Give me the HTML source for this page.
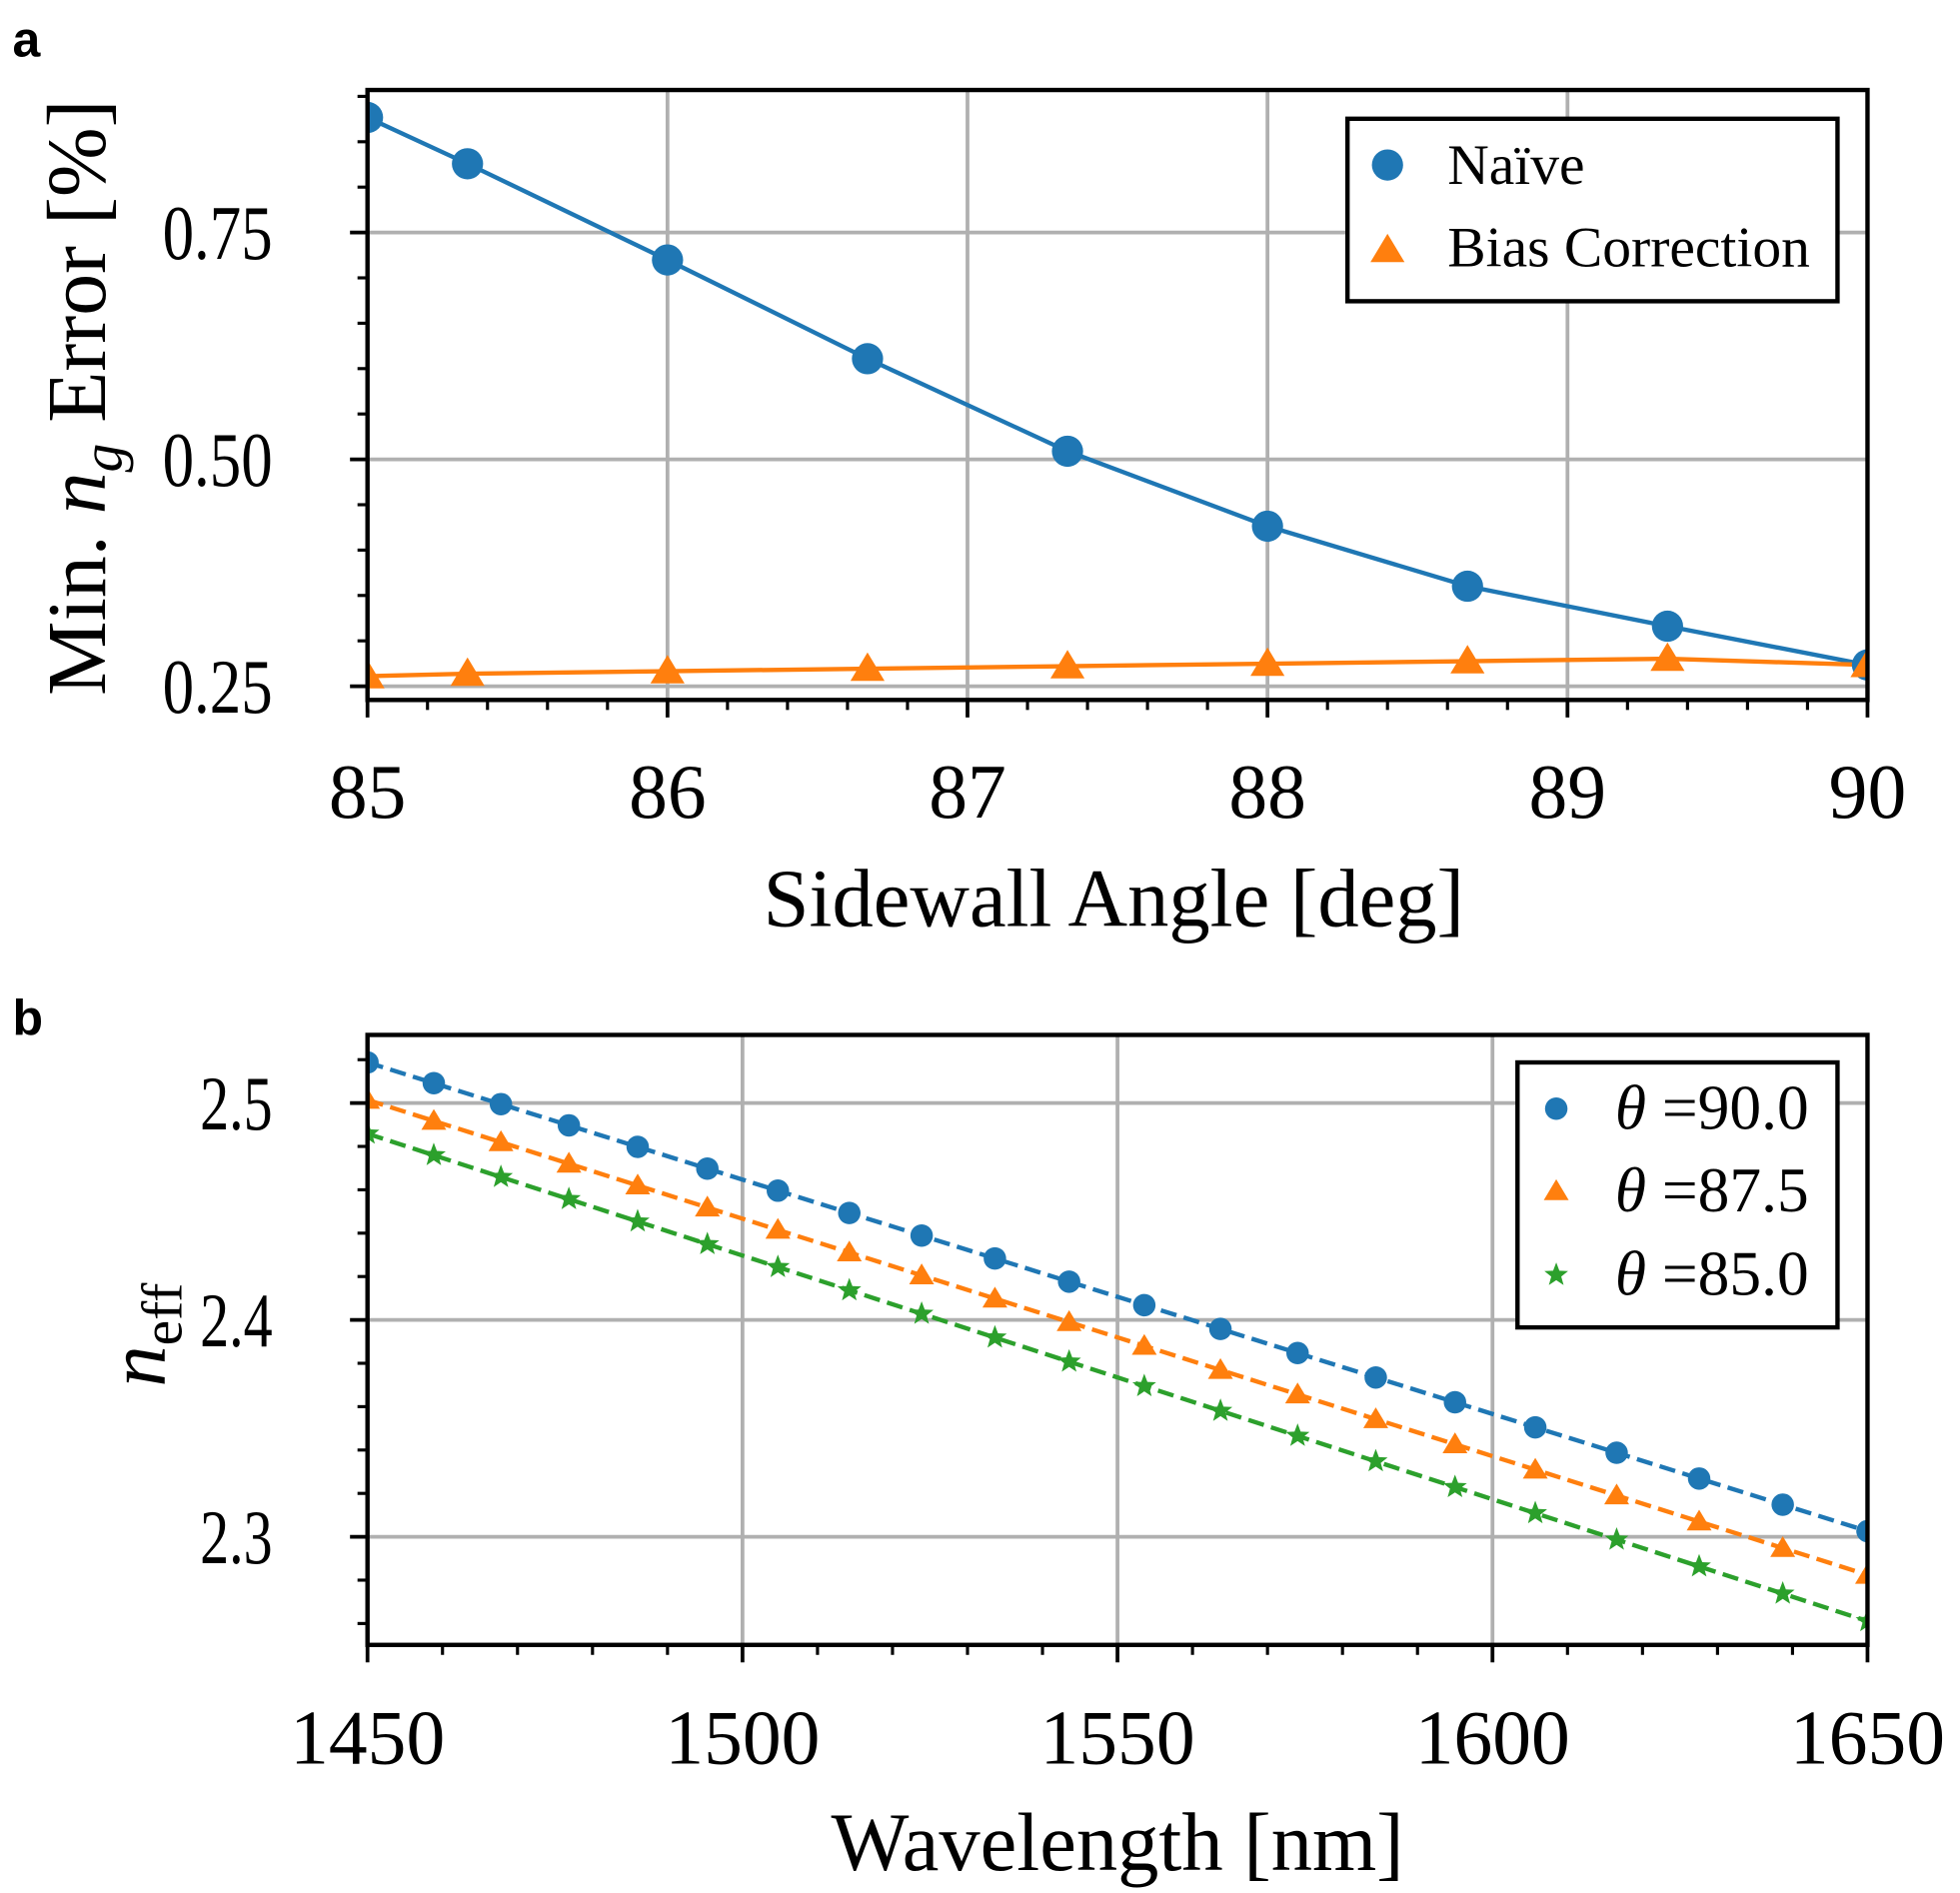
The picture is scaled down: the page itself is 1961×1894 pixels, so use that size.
<!DOCTYPE html>
<html><head><meta charset="utf-8"><style>
html,body{margin:0;padding:0;background:#fff;}
svg{display:block;}
text{font-family:"Liberation Serif",serif;fill:#000;}
</style></head><body>
<svg id="s" width="1961" height="1894" viewBox="0 0 1568 1514.5" preserveAspectRatio="none" xmlns="http://www.w3.org/2000/svg">
<rect width="1568" height="1515" fill="#fff"/>
<text x="10" y="45" style="font-family:'Liberation Sans',sans-serif;font-weight:bold;font-size:40px">a</text>
<text x="10" y="828" style="font-family:'Liberation Sans',sans-serif;font-weight:bold;font-size:40px">b</text>
<g id="ga"></g>
<g id="gb"></g>
</svg>
<script>
const NS="http://www.w3.org/2000/svg";
function el(p,t,a,txt){const e=document.createElementNS(NS,t);for(const k in a)e.setAttribute(k,a[k]);if(txt!==undefined)e.textContent=txt;p.appendChild(e);return e;}
const ga=document.getElementById('ga'),gb=document.getElementById('gb');
const BL='#1f77b4',OR='#ff7f0e',GR='#2ca02c';
function tri(g,x,y,c,s){el(g,'polygon',{points:`${x},${y-s} ${x-s*1.05},${y+s*0.75} ${x+s*1.05},${y+s*0.75}`,fill:c});}
function star(g,x,y,c,s){let p=[];for(let i=0;i<10;i++){const r=i%2?s*0.42:s;const a=-Math.PI/2+i*Math.PI/5;p.push((x+r*Math.cos(a)).toFixed(1)+','+(y+r*Math.sin(a)).toFixed(1));}el(g,'polygon',{points:p.join(' '),fill:c});}
// Panel a
{const L=294,R=1494,T=72,B=560;
const X=v=>L+(v-85)*240, Y=v=>549-(v-0.25)*726;
const cl=el(ga,'clipPath',{id:'ca'});el(cl,'rect',{x:L,y:T,width:R-L,height:B-T});
for(let v=86;v<90;v++)el(ga,'line',{x1:X(v),x2:X(v),y1:T,y2:B,stroke:'#b0b0b0','stroke-width':3});
[0.25,0.5,0.75].forEach(v=>el(ga,'line',{x1:L,x2:R,y1:Y(v),y2:Y(v),stroke:'#b0b0b0','stroke-width':3}));
const nx=[294,374,534,694,854,1014,1174,1334,1494],ny=[94,131,208,287,361,421,469,501,532],by=[541,539,537,535,533,531,529,527,532];
const gc=el(ga,'g',{'clip-path':'url(#ca)'});
el(gc,'polyline',{points:nx.map((x,i)=>x+','+ny[i]).join(' '),fill:'none',stroke:BL,'stroke-width':3.5});
el(gc,'polyline',{points:nx.map((x,i)=>x+','+by[i]).join(' '),fill:'none',stroke:OR,'stroke-width':3.5});
nx.forEach((x,i)=>{el(gc,'circle',{cx:x,cy:ny[i],r:12.5,fill:BL});tri(gc,x,by[i],OR,13);});
el(ga,'rect',{x:L,y:T,width:R-L,height:B-T,fill:'none',stroke:'#000','stroke-width':3.5});
for(let i=0;i<=25;i++){const x=L+i*48;const maj=i%5==0;el(ga,'line',{x1:x,x2:x,y1:B,y2:B+(maj?14:8),stroke:'#000','stroke-width':maj?3:2.5});}
for(let v=0.25;v<=0.9001;v+=0.05){const y=Y(v);const maj=Math.abs((v*4)-Math.round(v*4))<1e-6;el(ga,'line',{x1:L,x2:L-(maj?14:8),y1:y,y2:y,stroke:'#000','stroke-width':maj?3:2.5});}
[[0.25,'0.25'],[0.5,'0.50'],[0.75,'0.75']].forEach(([v,t])=>el(ga,'text',{x:130,y:Y(v)+21,'font-size':62,textLength:88,lengthAdjust:'spacingAndGlyphs'},t));
for(let v=85;v<=90;v++)el(ga,'text',{x:X(v),y:654,'text-anchor':'middle','font-size':62},String(v));
el(ga,'text',{x:891,y:741,'text-anchor':'middle','font-size':66},'Sidewall Angle [deg]');
const yl=el(ga,'text',{transform:'translate(84,318) rotate(-90)','text-anchor':'middle','font-size':67});
yl.innerHTML='Min. <tspan font-style="italic">n</tspan><tspan font-style="italic" font-size="46" dy="13">g</tspan><tspan dy="-13"> Error [%]</tspan>';
el(ga,'rect',{x:1078,y:95,width:392,height:146,fill:'#fff',stroke:'#000','stroke-width':3.5});
el(ga,'circle',{cx:1110,cy:132,r:12.5,fill:BL});tri(ga,1110,200,OR,13);
el(ga,'text',{x:1158,y:147,'font-size':46},'Naïve');
el(ga,'text',{x:1158,y:213,'font-size':46,textLength:290,lengthAdjust:'spacingAndGlyphs'},'Bias Correction');
}
// Panel b
{const L=294,R=1494,T=828,B=1316;
const X=v=>L+(v-1450)*6, Y=v=>1056-(v-2.4)*1735;
const cl=el(gb,'clipPath',{id:'cb'});el(cl,'rect',{x:L,y:T,width:R-L,height:B-T});
[1500,1550,1600].forEach(v=>el(gb,'line',{x1:X(v),x2:X(v),y1:T,y2:B,stroke:'#b0b0b0','stroke-width':3}));
[2.3,2.4,2.5].forEach(v=>el(gb,'line',{x1:L,x2:R,y1:Y(v),y2:Y(v),stroke:'#b0b0b0','stroke-width':3}));
const gc=el(gb,'g',{'clip-path':'url(#cb)'});
const ser=[[850,1225,BL,'c'],[880,1260,OR,'t'],[907,1297,GR,'s']];
const a=1/1450,b=1/1650;
ser.forEach(([y0,y1,c,m])=>{
 el(gc,'line',{x1:L,y1:y0,x2:R,y2:y1,stroke:c,'stroke-width':3.5,'stroke-dasharray':'13,6'});
 for(let i=0;i<=20;i++){const lam=1/(a-(a-b)*i/20);const f=(lam-1450)/200;const x=L+f*1200;const y=y0+(y1-y0)*f;
  if(m=='c')el(gc,'circle',{cx:x,cy:y,r:9,fill:c});else if(m=='t')tri(gc,x,y,c,9.5);else star(gc,x,y,c,10);}
});
el(gb,'rect',{x:L,y:T,width:R-L,height:B-T,fill:'none',stroke:'#000','stroke-width':3.5});
for(let i=0;i<=20;i++){const x=L+i*60;const maj=i%5==0;el(gb,'line',{x1:x,x2:x,y1:B,y2:B+(maj?14:8),stroke:'#000','stroke-width':maj?3:2.5});}
for(let k=0;k<=14;k++){const v=2.26+k*0.02;const y=Y(v);if(y<T-1)continue;const maj=Math.abs(v*10-Math.round(v*10))<1e-6;el(gb,'line',{x1:L,x2:L-(maj?14:8),y1:y,y2:y,stroke:'#000','stroke-width':maj?3:2.5});}
[2.3,2.4,2.5].forEach(v=>el(gb,'text',{x:160,y:Y(v)+21,'font-size':62,textLength:58,lengthAdjust:'spacingAndGlyphs'},v.toFixed(1)));
[1450,1500,1550,1600,1650].forEach(v=>el(gb,'text',{x:X(v),y:1411,'text-anchor':'middle','font-size':62},String(v)));
el(gb,'text',{x:894,y:1496,'text-anchor':'middle','font-size':66},'Wavelength [nm]');
const yl=el(gb,'text',{transform:'translate(132,1068) rotate(-90)','text-anchor':'middle','font-size':66});
yl.innerHTML='<tspan font-style="italic">n</tspan><tspan font-size="46" dy="13">eff</tspan>';
el(gb,'rect',{x:1214,y:850,width:256,height:212,fill:'#fff',stroke:'#000','stroke-width':3.5});
el(gb,'circle',{cx:1245,cy:887,r:9,fill:BL});tri(gb,1245,953,OR,9.5);star(gb,1245,1020,GR,10);
[[887,'90.0'],[953,'87.5'],[1020,'85.0']].forEach(([y,t])=>{const e=el(gb,'text',{x:1292,y:y+16,'font-size':51,textLength:155,lengthAdjust:'spacingAndGlyphs'});e.innerHTML='<tspan font-style="italic">θ</tspan> ='+t;});
}
</script>
</body></html>
